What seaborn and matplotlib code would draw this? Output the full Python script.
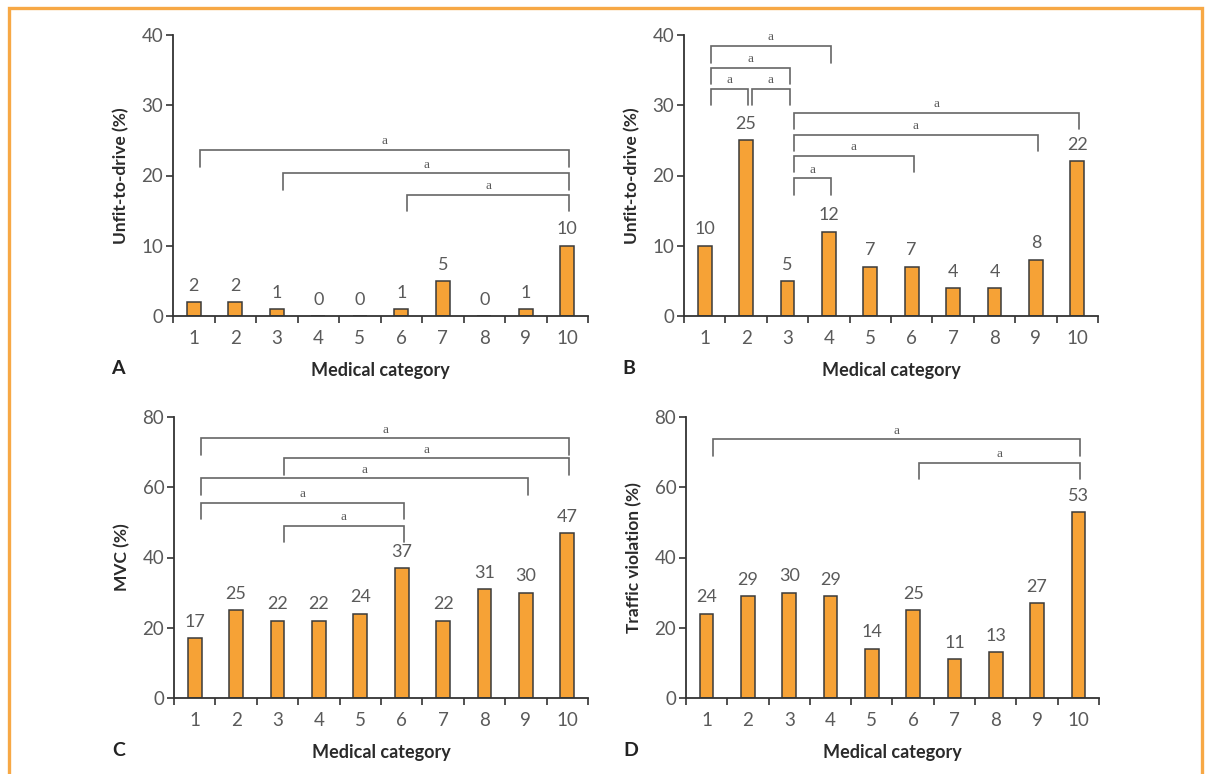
import matplotlib
matplotlib.use("Agg")
import matplotlib.pyplot as plt
import seaborn as sns
from matplotlib.patches import Rectangle
from matplotlib.ticker import FixedLocator

# values
categories = [str(i) for i in range(1, 11)]
unfit_a = [2, 2, 1, 0, 0, 1, 5, 0, 1, 10]
unfit_b = [10, 25, 5, 12, 7, 7, 4, 4, 8, 22]
mvc = [17, 25, 22, 22, 24, 37, 22, 31, 30, 47]
traffic = [24, 29, 30, 29, 14, 25, 11, 13, 27, 53]

# significance brackets: (from category, to category, height of bar)
brackets_a = [(1, 10, 23.6), (3, 10, 20.3), (6, 10, 17.2)]
brackets_b = [(1, 4, 38.4), (1, 3, 35.3), (1, 2, 32.3), (2, 3, 32.3),
              (3, 10, 28.9), (3, 9, 25.8), (3, 6, 22.8), (3, 4, 19.6)]
brackets_c = [(1, 10, 73.9), (3, 10, 68.2), (1, 9, 62.5), (1, 6, 55.6), (3, 6, 49.0)]
brackets_d = [(1, 10, 73.6), (6, 10, 67.0)]

bar_color = "#F6A236"
gray = "#5a5a5a"

sns.set_style("ticks")
plt.rcParams["font.family"] = ["Lato", "DejaVu Sans"]

fig = plt.figure(figsize=(12.06, 7.74), dpi=100)

# orange frame round the figure
fig.patches.append(Rectangle((8.5 / 1206, -0.05), 1193 / 1206, 1.05 - 7.5 / 774,
                             transform=fig.transFigure, fill=False,
                             edgecolor="#F7A845", linewidth=2.4))

panels = [
    ("A", unfit_a, brackets_a, 40, "Unfit-to-drive (%)", [173, 35, 588, 316]),
    ("B", unfit_b, brackets_b, 40, "Unfit-to-drive (%)", [684, 35, 1098, 316]),
    ("C", mvc, brackets_c, 80, "MVC (%)", [174, 417, 588, 698]),
    ("D", traffic, brackets_d, 80, "Traffic violation (%)", [686, 417, 1099, 698]),
]

W, H = 1206, 774
for letter, values, brackets, ymax, ylabel, (x0, y0, x1, y1) in panels:
    ax = fig.add_axes([x0 / W, 1 - y1 / H, (x1 - x0) / W, (y1 - y0) / H])
    sns.barplot(x=categories, y=values, order=categories, color=bar_color,
                saturation=1, width=0.33, edgecolor="#3a3a3a", linewidth=1.1, ax=ax)
    ax.bar_label(ax.containers[0], padding=6, fontsize=13, color=gray)

    ax.set_xlim(-0.5, 9.5)
    ax.set_ylim(0, ymax)
    ax.set_yticks(range(0, ymax + 1, ymax // 4))
    ax.xaxis.set_minor_locator(FixedLocator([i - 0.5 for i in range(11)]))
    ax.tick_params(axis="x", which="major", length=0, pad=10, labelsize=13.5, labelcolor=gray)
    ax.tick_params(axis="x", which="minor", length=5, width=1.2, color="#333333")
    ax.tick_params(axis="y", length=5, width=1.2, pad=2, labelsize=13.5,
                   labelcolor=gray, color="#333333")
    for side in ["left", "bottom"]:
        ax.spines[side].set_linewidth(1.3)
        ax.spines[side].set_color("#333333")
    sns.despine(ax=ax)

    ax.set_xlabel("Medical category", fontsize=13, fontweight="bold", color="#2a2a2a")
    ax.set_ylabel(ylabel, fontsize=12.5, fontweight="bold", color="#2a2a2a")
    ax.xaxis.set_label_coords(0.5, -0.165)
    ax.yaxis.set_label_coords(-0.105, 0.5)

    # brackets with the "a" mark
    drop = 0.058 * ymax
    for start, end, h in brackets:
        xs = start - 1 + 0.15
        xe = end - 1 + 0.05
        ax.plot([xs, xs, xe, xe], [h - drop, h, h, h - drop], color="#666666",
                linewidth=1.2, clip_on=False, solid_joinstyle="miter")
        ax.annotate("a", ((xs + xe) / 2, h), xytext=(0, 2), textcoords="offset points",
                    ha="center", va="bottom", fontsize=9.5, color=gray,
                    family="Liberation Serif", annotation_clip=False)

    fig.text((x0 - 55) / W, 1 - (y1 + 52) / H, letter, fontsize=14,
             fontweight="bold", color="#222222", ha="center", va="center")

fig.savefig("out.png", dpi=100)
